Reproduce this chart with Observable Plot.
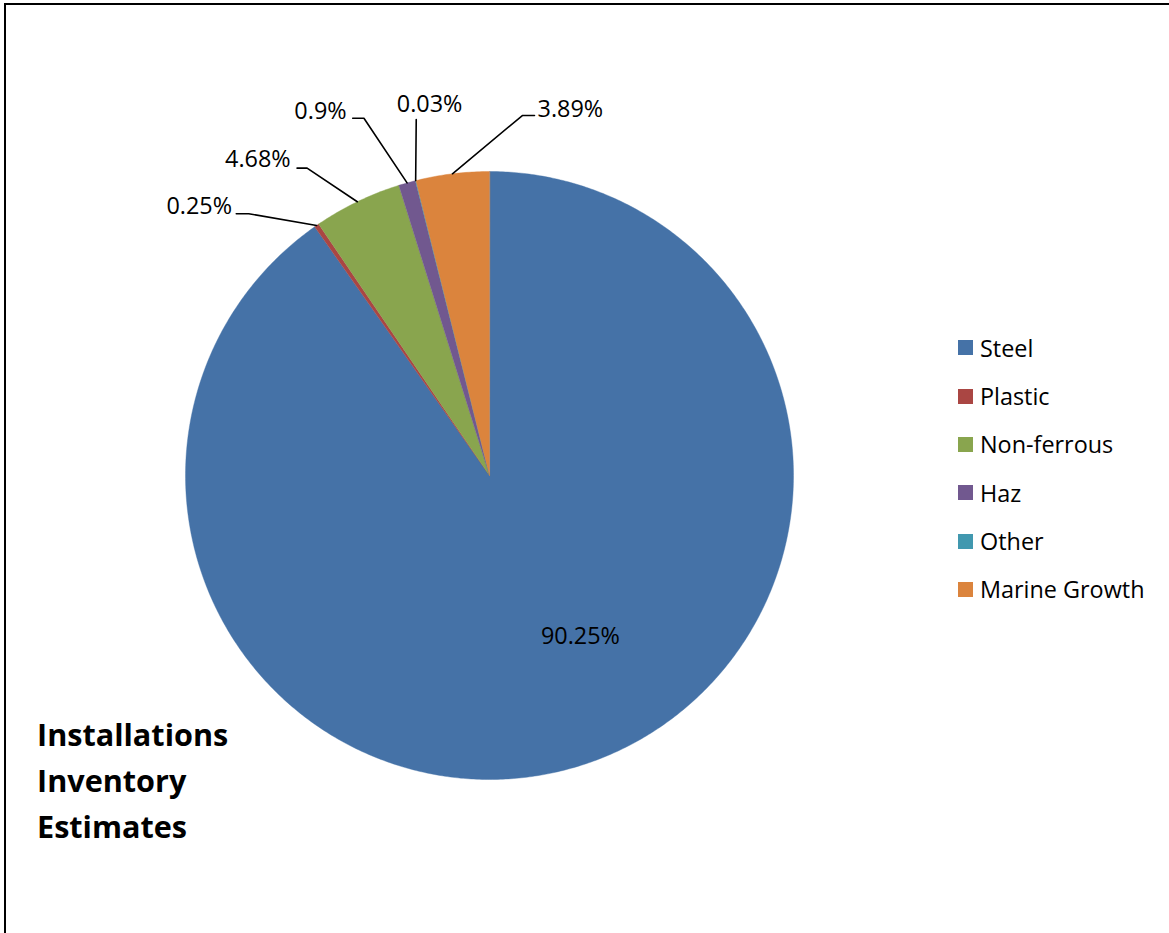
<!DOCTYPE html>
<html><head><meta charset="utf-8">
<script src="https://cdn.jsdelivr.net/npm/d3@7"></script>
<script src="https://cdn.jsdelivr.net/npm/@observablehq/plot@0.6"></script>
<style>
html,body{margin:0;padding:0;overflow:hidden;background:#fff;width:1169px;height:933px;}
#wrap{position:relative;width:1169px;height:933px;overflow:hidden;}
#frame{position:absolute;left:4px;top:3px;width:1300px;height:1100px;border:2px solid #000;box-sizing:border-box;}
#chart{position:absolute;left:0;top:0;}
#title{position:absolute;left:37px;top:711px;font-family:"Open Sans",sans-serif;font-weight:700;font-size:30.6px;line-height:46px;color:#000;}
#legend{position:absolute;left:958px;top:0;font-family:"Open Sans",sans-serif;font-size:23.4px;color:#000;}
.row{position:absolute;left:0;display:flex;align-items:center;white-space:nowrap;height:30px;transform:translateY(-50%);}
.sw{width:15px;height:15px;margin-right:7px;flex:none;}
</style></head>
<body>
<div id="wrap">
  <div id="frame"></div>
  <div id="chart"></div>
  <div id="title">Installations<br>Inventory<br>Estimates</div>
  <div id="legend"></div>
</div>
<script>
// ---- data ----
const categories = ["Steel", "Plastic", "Non-ferrous", "Haz", "Other", "Marine Growth"];
const shares = [90.25, 0.25, 4.68, 0.9, 0.03, 3.89];
const labels = ["90.25%", "0.25%", "4.68%", "0.9%", "0.03%", "3.89%"];
const colors = ["#4572A7", "#AA4643", "#89A54E", "#71588F", "#4198AF", "#DB843D"];

// ---- layout (label placement in pie-radius units, centre = 0,0) ----
const labelX = [0.299, -0.955, -0.762, -0.556, -0.197, 0.266];
const labelY = [-0.529, 0.886, 1.038, 1.199, 1.220, 1.205];
const leaderEndX = [null, -0.833, -0.633, -0.450, -0.241, 0.148];
const leaderEndY = [null, 0.861, 1.011, 1.175, 1.171, 1.184];
const leaderElbowX = [null, -0.792, -0.600, -0.413, -0.241, 0.108];
const leaderElbowY = [null, 0.861, 1.011, 1.175, 1.171, 1.184];

// ---- geometry from data ----
const total = d3.sum(shares);
const slicePts = [];
const leaderPts = [];
let cum = 0;
categories.forEach((c, i) => {
  const a0 = cum / total * 2 * Math.PI;
  cum += shares[i];
  const a1 = cum / total * 2 * Math.PI;
  slicePts.push({cat: c, x: 0, y: 0});
  const n = Math.max(2, Math.ceil((a1 - a0) / (Math.PI / 360)));
  for (let k = 0; k <= n; k++) {
    const a = a0 + (a1 - a0) * k / n;
    slicePts.push({cat: c, x: Math.sin(a), y: Math.cos(a)});
  }
  if (leaderEndX[i] != null) {
    const am = (a0 + a1) / 2;
    leaderPts.push({cat: c, x: leaderEndX[i], y: leaderEndY[i]});
    leaderPts.push({cat: c, x: leaderElbowX[i], y: leaderElbowY[i]});
    leaderPts.push({cat: c, x: Math.sin(am), y: Math.cos(am)});
  }
});
const labelData = categories.map((c, i) => ({cat: c, text: labels[i], x: labelX[i], y: labelY[i]}));

const chart = Plot.plot({
  width: 1169,
  height: 933,
  margin: 0,
  style: {background: "transparent", overflow: "visible"},
  x: {domain: [-1, 1], range: [185, 793], axis: null},
  y: {domain: [-1, 1], range: [779, 171], axis: null},
  color: {domain: categories, range: colors},
  marks: [
    Plot.line(slicePts, {x: "x", y: "y", z: "cat", fill: "cat", stroke: "cat", strokeWidth: 0.4, curve: "linear-closed"}),
    Plot.line(leaderPts, {x: "x", y: "y", z: "cat", stroke: "#000", strokeWidth: 1.6, curve: "linear"}),
    Plot.text(labelData, {x: "x", y: "y", text: "text", fill: "#000", fontSize: 23.4, fontFamily: "Open Sans", textAnchor: "middle", lineAnchor: "middle"})
  ]
});
document.getElementById("chart").appendChild(chart);

// ---- legend ----
const legendCenters = [347.8, 396.1, 444.4, 492.7, 541.0, 589.3];
const leg = document.getElementById("legend");
categories.forEach((c, i) => {
  const row = document.createElement("div");
  row.className = "row";
  row.style.top = legendCenters[i] + "px";
  const sw = document.createElement("div");
  sw.className = "sw";
  sw.style.background = colors[i];
  const t = document.createElement("span");
  t.textContent = c;
  row.appendChild(sw);
  row.appendChild(t);
  leg.appendChild(row);
});
</script>
</body></html>
